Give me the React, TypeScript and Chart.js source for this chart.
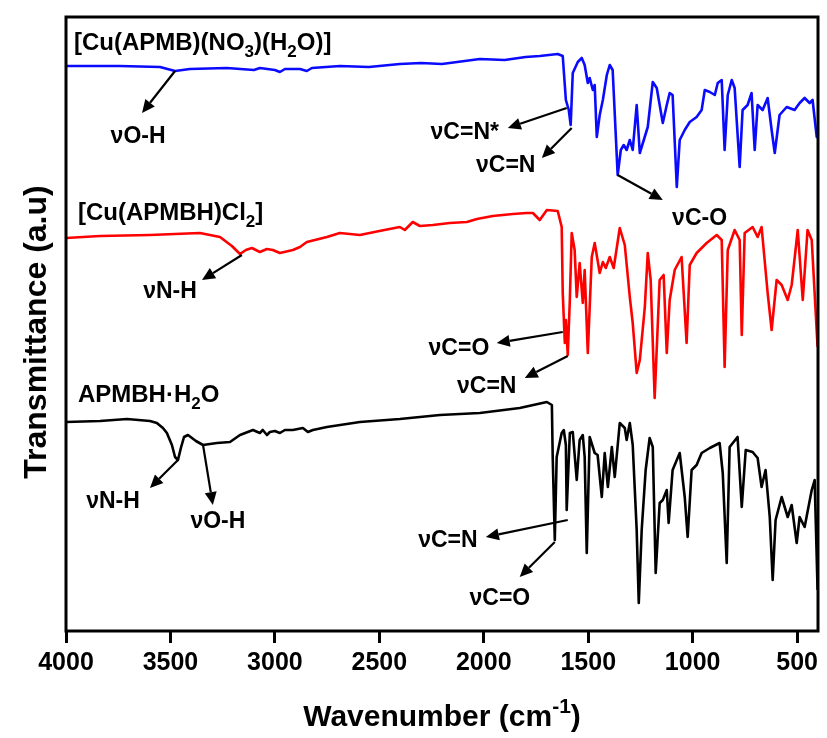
import React, { useEffect, useRef } from "react";
import { Chart, registerables } from "chart.js";

Chart.register(...registerables);

// FT-IR spectra, wavenumber in cm^-1, transmittance in arbitrary (offset) units

// [Cu(APMB)(NO3)(H2O)]
const nitrateWn = [
  4000, 3742, 3550, 3478, 3407, 3230, 3100, 3072, 3000, 2976, 2952, 2880, 2847, 2823, 2689, 2550,
  2402, 2300, 2200, 2019, 1900, 1800, 1732, 1646, 1622, 1607, 1593, 1584, 1574, 1550, 1531, 1517,
  1502, 1493, 1478, 1469, 1459, 1445, 1430, 1411, 1397, 1383, 1359, 1344, 1330, 1316, 1301, 1287,
  1268, 1253, 1234, 1215, 1191, 1172, 1143, 1124, 1110, 1096, 1076, 1062, 1038, 1014, 981, 957,
  942, 918, 894, 880, 861, 847, 832, 813, 799, 775, 761, 737, 718, 703, 689, 665, 641, 622, 607,
  584, 550, 512, 488, 464, 440, 426, 406, 400,
];
const nitrateT = [
  565, 565, 564, 560, 562, 563, 561, 563, 561, 559, 562, 562, 560, 563, 565, 564,
  567, 568, 567, 572, 571, 574, 575, 577, 575, 531, 521, 506, 558, 569, 573, 566,
  548, 553, 541, 546, 494, 516, 531, 556, 566, 561, 456, 481, 486, 481, 491, 481,
  526, 478, 491, 504, 549, 543, 508, 526, 538, 536, 444, 491, 501, 509, 514, 521,
  541, 539, 536, 548, 551, 481, 536, 551, 543, 464, 521, 526, 538, 481, 526, 521, 533, 501, 478,
  516, 524, 521, 528, 533, 528, 531, 494, 501,
];

// [Cu(APMBH)Cl2]
const chlorideWn = [
  4000, 3837, 3598, 3359, 3263, 3206, 3167, 3139, 3110, 3072, 3038, 3010, 2976, 2914, 2880, 2847,
  2751, 2689, 2593, 2500, 2402, 2378, 2340, 2306, 2244, 2163, 2081, 2033, 1957, 1861, 1794, 1765,
  1732, 1698, 1646, 1627, 1622, 1612, 1607, 1598, 1588, 1579, 1565, 1555, 1541, 1526, 1517, 1502,
  1483, 1469, 1445, 1430, 1416, 1397, 1378, 1349, 1325, 1301, 1287, 1268, 1253, 1229, 1215, 1201,
  1182, 1158, 1139, 1124, 1110, 1086, 1053, 1029, 1014, 981, 933, 885, 861, 847, 832, 799, 775,
  765, 751, 713, 689, 670, 641, 622, 598, 574, 545, 526, 497, 473, 450, 430, 402,
];
const chlorideT = [
  393, 395, 396, 398, 394, 385, 377, 381, 383, 379, 382, 381, 378, 381, 384, 389,
  394, 398, 396, 400, 404, 401, 409, 405, 406, 408, 409, 412, 415, 417, 418, 418,
  411, 421, 420, 404, 338, 288, 311, 276, 331, 398, 381, 334, 368, 328, 361, 278,
  374, 388, 358, 369, 363, 374, 363, 403, 386, 334, 308, 258, 271, 324, 378, 351,
  233, 351, 356, 278, 331, 361, 374, 288, 366, 378, 388, 396, 391, 264, 381, 401, 391,
  296, 398, 404, 394, 404, 338, 301, 351, 346, 331, 346, 401, 331, 401, 391, 284,
];

// APMBH·H2O
const ligandWn = [
  4000, 3837, 3708, 3598, 3565, 3536, 3517, 3493, 3478, 3464, 3450, 3435, 3416, 3397, 3378, 3344,
  3311, 3277, 3215, 3167, 3105, 3072, 3058, 3038, 3024, 3000, 2976, 2952, 2914, 2866, 2842, 2818,
  2751, 2593, 2402, 2210, 2019, 1828, 1698, 1674, 1670, 1660, 1651, 1627, 1617, 1607, 1603, 1588,
  1574, 1555, 1541, 1526, 1517, 1507, 1493, 1469, 1455, 1435, 1421, 1406, 1387, 1373, 1349, 1325,
  1316, 1301, 1287, 1268, 1258, 1244, 1225, 1206, 1191, 1177, 1158, 1143, 1124, 1115, 1096, 1062,
  1038, 1024, 1005, 981, 957, 918, 871, 856, 837, 823, 785, 765, 746, 713, 689, 670, 651, 631, 617,
  603, 574, 545, 526, 502, 488, 464, 430, 416, 402,
];
const ligandT = [
  209, 210, 212, 210, 208, 203, 198, 186, 174, 171, 183, 194, 196, 193, 190, 186,
  187, 188, 189, 196, 201, 198, 201, 196, 199, 200, 198, 201, 201, 203, 199, 201,
  204, 209, 212, 216, 218, 223, 229, 226, 174, 91, 174, 198, 201, 186, 121, 198,
  199, 151, 191, 196, 174, 78, 194, 178, 176, 134, 178, 144, 184, 154, 208, 203,
  191, 208, 186, 101, 28, 101, 161, 193, 184, 58, 128, 131, 141, 108, 161, 178,
  134, 94, 161, 166, 178, 183, 188, 158, 68, 184, 194, 124, 181, 179, 173, 144, 161, 114, 51,
  111, 134, 114, 126, 88, 114, 104, 141, 151, 41,
];

const xTickValues = [4000, 3500, 3000, 2500, 2000, 1500, 1000, 500];

// Peak assignments: arrow from the band (tail) to the label side (head), label position
type Seg = { t: string; sub?: boolean; sup?: boolean };
type Note = { text: Seg[]; tail: [number, number]; head: [number, number]; at: [number, number] };

const nu = "\u03bd";
const notes: Note[] = [
  { text: [{ t: nu + "O-H" }], tail: [3478, 560], head: [3636, 518], at: [3655, 488] },
  { text: [{ t: nu + "C=N*" }], tail: [1603, 523], head: [1885, 503], at: [2091, 492] },
  { text: [{ t: nu + "C=N" }], tail: [1579, 503], head: [1722, 473], at: [1895, 459] },
  { text: [{ t: nu + "C-O" }], tail: [1359, 456], head: [1143, 431], at: [967, 406] },
  { text: [{ t: nu + "N-H" }], tail: [3158, 376], head: [3349, 351], at: [3502, 333] },
  { text: [{ t: nu + "C=O" }], tail: [1622, 299], head: [1938, 288], at: [2119, 276] },
  { text: [{ t: nu + "C=N" }], tail: [1598, 275], head: [1804, 253], at: [1986, 238] },
  { text: [{ t: nu + "N-H" }], tail: [3464, 171], head: [3598, 143], at: [3775, 123] },
  { text: [{ t: nu + "O-H" }], tail: [3344, 186], head: [3297, 126], at: [3273, 103] },
  { text: [{ t: nu + "C=N" }], tail: [1598, 111], head: [1990, 94], at: [2172, 84] },
  { text: [{ t: nu + "C=O" }], tail: [1660, 89], head: [1828, 54], at: [1923, 26] },
];

const seriesLabels: { text: Seg[]; at: [number, number] }[] = [
  {
    text: [{ t: "[Cu(APMB)(NO" }, { t: "3", sub: true }, { t: ")(H" }, { t: "2", sub: true }, { t: "O)]" }],
    at: [3962, 581],
  },
  { text: [{ t: "[Cu(APMBH)Cl" }, { t: "2", sub: true }, { t: "]" }], at: [3943, 411] },
  { text: [{ t: "APMBH\u00b7H" }, { t: "2", sub: true }, { t: "O" }], at: [3943, 229] },
];

const FONT = "'Liberation Sans', Arial, Helvetica, sans-serif";

function drawRich(
  ctx: CanvasRenderingContext2D,
  segs: Seg[],
  x: number,
  y: number,
  size: number,
  align: "left" | "center"
) {
  const fontOf = (s: Seg) => `bold ${s.sub || s.sup ? Math.round(size * 0.7) : size}px ${FONT}`;
  const widths = segs.map((s) => {
    ctx.font = fontOf(s);
    return ctx.measureText(s.t).width;
  });
  const total = widths.reduce((a, b) => a + b, 0);
  let cx = align === "center" ? x - total / 2 : x;
  ctx.textAlign = "left";
  ctx.textBaseline = "alphabetic";
  segs.forEach((s, i) => {
    ctx.font = fontOf(s);
    const dy = s.sub ? size * 0.3 : s.sup ? -size * 0.45 : 0;
    ctx.fillText(s.t, cx, y + dy);
    cx += widths[i];
  });
}

function drawArrow(ctx: CanvasRenderingContext2D, x1: number, y1: number, x2: number, y2: number) {
  const ang = Math.atan2(y2 - y1, x2 - x1);
  const len = 13;
  const half = 6;
  const bx = x2 - len * Math.cos(ang);
  const by = y2 - len * Math.sin(ang);
  ctx.beginPath();
  ctx.moveTo(x1, y1);
  ctx.lineTo(bx, by);
  ctx.lineWidth = 2.2;
  ctx.strokeStyle = "#000";
  ctx.stroke();
  ctx.beginPath();
  ctx.moveTo(x2, y2);
  ctx.lineTo(bx + half * Math.sin(ang), by - half * Math.cos(ang));
  ctx.lineTo(bx - half * Math.sin(ang), by + half * Math.cos(ang));
  ctx.closePath();
  ctx.fillStyle = "#000";
  ctx.fill();
}

const decorPlugin = {
  id: "decor",
  afterDatasetsDraw(chart: any) {
    const { ctx, chartArea: a, scales } = chart;
    const px = (v: number) => scales.x.getPixelForValue(v);
    const py = (v: number) => scales.y.getPixelForValue(v);
    ctx.save();
    // frame
    ctx.lineWidth = 3;
    ctx.strokeStyle = "#000";
    ctx.strokeRect(a.left, a.top, a.right - a.left, a.bottom - a.top);

    ctx.fillStyle = "#000";
    seriesLabels.forEach((l) => drawRich(ctx, l.text, px(l.at[0]), py(l.at[1]), 24, "left"));

    notes.forEach((n) => {
      drawArrow(ctx, px(n.tail[0]), py(n.tail[1]), px(n.head[0]), py(n.head[1]));
      ctx.fillStyle = "#000";
      drawRich(ctx, n.text, px(n.at[0]), py(n.at[1]), 23, "center");
    });

    // axis titles
    const cx = (a.left + a.right) / 2;
    drawRich(ctx, [{ t: "Wavenumber (cm" }, { t: "-1", sup: true }, { t: ")" }], cx, 726, 30, "center");
    ctx.save();
    ctx.translate(46, (a.top + a.bottom) / 2 + 8);
    ctx.rotate(-Math.PI / 2);
    drawRich(ctx, [{ t: "Transmittance (a.u)" }], 0, 0, 32, "center");
    ctx.restore();
    ctx.restore();
  },
};

export default function App() {
  const ref = useRef<HTMLCanvasElement | null>(null);

  useEffect(() => {
    if (!ref.current) return;
    const mk = (wn: number[], t: number[]) => wn.map((x, i) => ({ x, y: t[i] }));
    const chart = new Chart(ref.current, {
      type: "line",
      data: {
        datasets: [
          { data: mk(nitrateWn, nitrateT), borderColor: "#0a0aff", borderWidth: 2.6 },
          { data: mk(chlorideWn, chlorideT), borderColor: "#ff0000", borderWidth: 2.6 },
          { data: mk(ligandWn, ligandT), borderColor: "#000000", borderWidth: 2.6 },
        ],
      },
      options: {
        animation: false,
        responsive: false,
        parsing: false,
        layout: { padding: { left: 66, right: 9, top: 17, bottom: 0 } },
        elements: { point: { radius: 0 }, line: { tension: 0, borderJoinStyle: "round" } },
        plugins: { legend: { display: false }, tooltip: { enabled: false } },
        scales: {
          x: {
            type: "linear",
            reverse: true,
            min: 400,
            max: 4000,
            afterBuildTicks: (s: any) => {
              s.ticks = xTickValues.map((value) => ({ value }));
            },
            afterFit: (s: any) => {
              s.height = 107;
            },
            grid: {
              display: true,
              drawOnChartArea: false,
              drawTicks: true,
              tickLength: 12,
              lineWidth: 3,
              color: "#000",
            },
            border: { display: false },
            ticks: {
              color: "#000",
              font: { family: FONT, size: 25, weight: "bold" },
              padding: 5,
              maxRotation: 0,
              autoSkip: false,
              callback: (v: any) => String(v),
            },
          },
          y: { display: false, min: 0, max: 614 },
        },
      } as any,
      plugins: [decorPlugin],
    });
    return () => chart.destroy();
  }, []);

  return (
    <div style={{ position: "fixed", left: 0, top: 0, width: 827, height: 738, background: "#fff" }}>
      <canvas ref={ref} width={827} height={738} style={{ display: "block" }} />
    </div>
  );
}
